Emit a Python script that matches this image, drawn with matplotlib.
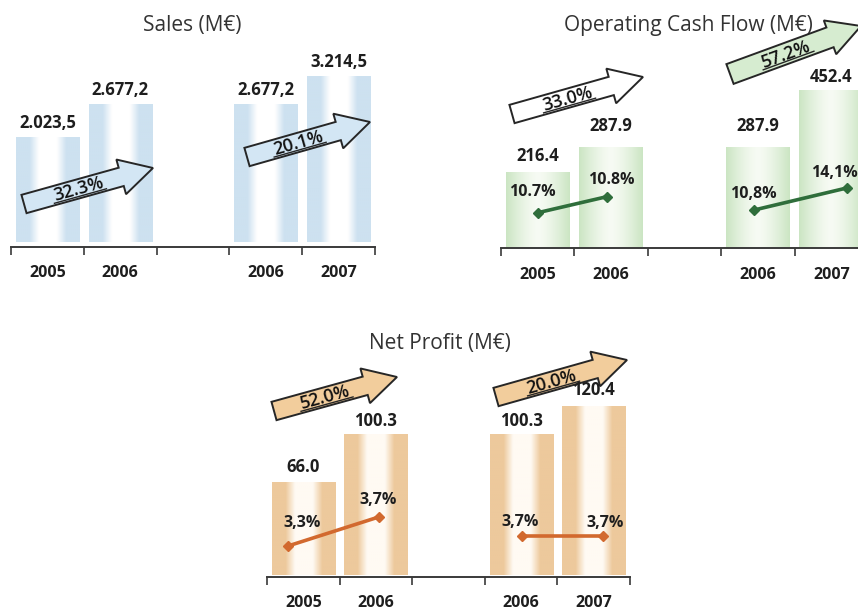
import matplotlib
matplotlib.use('Agg')
import matplotlib.pyplot as plt
import numpy as np
from matplotlib.patches import FancyArrow
from matplotlib.transforms import Affine2D
from matplotlib.colors import to_rgb

plt.rcParams['font.family'] = ['Open Sans', 'DejaVu Sans']

# ---------------- data ----------------
year_labels = ['2005', '2006', '', '2006', '2007']
bar_slots = [0, 1, 3, 4]

sales_values = [2023.5, 2677.2, 2677.2, 3214.5]
sales_labels = ['2.023,5', '2.677,2', '2.677,2', '3.214,5']
sales_growth = ['32.3%', '20.1%']

ocf_values = [216.4, 287.9, 287.9, 452.4]
ocf_labels = ['216.4', '287.9', '287.9', '452.4']
ocf_margin_left = [10.7, 10.8]
ocf_margin_right = [10.8, 14.1]
ocf_margin_labels_left = ['10.7%', '10.8%']
ocf_margin_labels_right = ['10,8%', '14,1%']
ocf_growth = ['33.0%', '57.2%']

np_values = [66.0, 100.3, 100.3, 120.4]
np_labels = ['66.0', '100.3', '100.3', '120.4']
np_margin_left = [3.3, 3.7]
np_margin_right = [3.7, 3.7]
np_margin_labels_left = ['3,3%', '3,7%']
np_margin_labels_right = ['3,7%', '3,7%']
np_growth = ['52.0%', '20.0%']

# ---------------- figure ----------------
W, H = 858, 610
fig = plt.figure(figsize=(W / 100, H / 100), dpi=100)
pix = Affine2D().scale(1 / W, -1 / H).translate(0, 1) + fig.transFigure
PT = 0.72  # points per pixel
TXT = '#1e1e1e'


def px_axes(left, right, bottom, top):
    ax = fig.add_axes([left / W, 1 - bottom / H, (right - left) / W, (bottom - top) / H])
    ax.patch.set_visible(False)
    return ax


def grad_bar(ax, xc, h, width, edge, center, sharp):
    t = np.linspace(0, 1, 96)
    d = np.abs(2 * t - 1)
    if sharp:
        w = np.clip((d - 0.28) / 0.3, 0, 1)
    else:
        w = d ** 1.4
    e = np.array(to_rgb(edge)); c = np.array(to_rgb(center))
    cols = c[None, :] * (1 - w[:, None]) + e[None, :] * w[:, None]
    ax.imshow(cols[None, :, :], extent=(xc - width / 2, xc + width / 2, 0, h),
              aspect='auto', origin='lower', interpolation='bilinear', zorder=1)


def style_axis(ax, ylim, label_off_px):
    ax.set_xlim(0, 5)
    ax.set_ylim(*ylim)
    for s in ['left', 'right', 'top']:
        ax.spines[s].set_visible(False)
    ax.spines['bottom'].set_color('#3a3a3a')
    ax.spines['bottom'].set_linewidth(1.4)
    ax.set_xticks(range(6))
    ax.set_xticklabels([])
    ax.tick_params(axis='x', length=6, width=1.2, color='#3a3a3a', direction='out')
    ax.set_yticks([])
    for i, lab in enumerate(year_labels):
        if lab:
            ax.annotate(lab, (i + 0.5, 0), xycoords=('data', 'axes fraction'),
                        xytext=(0, -label_off_px * PT), textcoords='offset points',
                        ha='center', va='center', fontsize=11.5, fontweight='bold',
                        color=TXT, annotation_clip=False)


def growth_arrow(ax, tail, tip, label, fill, body_w=19, head_w=36, head_l=33):
    dx, dy = tip[0] - tail[0], tip[1] - tail[1]
    L = np.hypot(dx, dy)
    ux, uy = dx / L, dy / L
    arr = FancyArrow(tail[0], tail[1], dx, dy, width=body_w, head_width=head_w,
                     head_length=head_l, length_includes_head=True,
                     facecolor=fill, edgecolor='#262626', lw=1.4,
                     transform=pix, clip_on=False, zorder=4)
    ax.add_patch(arr)
    ang = np.degrees(np.arctan2(-dy, dx))
    d = (L - head_l) * 0.56
    px_, py_ = -uy, ux
    cx, cy = tail[0] + ux * d + px_ * 1.0, tail[1] + uy * d + py_ * 1.0
    ax.text(cx, cy, label, rotation=ang, rotation_mode='anchor', ha='center',
            va='center', fontsize=13, fontweight='semibold', color='#111111',
            transform=pix, clip_on=False, zorder=5)
    ux0, uy0 = cx + px_ * 6.5 - ux * 27, cy + py_ * 6.5 - uy * 27
    ux1, uy1 = cx + px_ * 6.5 + ux * 27, cy + py_ * 6.5 + uy * 27
    ax.plot([ux0, ux1], [uy0, uy1], color='#262626', lw=1.0, transform=pix,
            clip_on=False, zorder=5)


def panel(rect, ylim, values, labels, edge, center, sharp, val_offs, title, title_xy, yl_off):
    ax = px_axes(*rect)
    for s, v in zip(bar_slots, values):
        grad_bar(ax, s + 0.5, v, 0.87, edge, center, sharp)
    style_axis(ax, ylim, yl_off)
    for s, v, lab, off in zip(bar_slots, values, labels, val_offs):
        ax.annotate(lab, (s + 0.5, v), xytext=(0, off * PT), textcoords='offset points',
                    ha='center', va='center', fontsize=12, fontweight='bold',
                    color=TXT, zorder=6, annotation_clip=False)
    ax.text(title_xy[0], title_xy[1], title, transform=pix, ha='center', va='center',
            fontsize=15, color='#333333', zorder=3, clip_on=False)
    return ax


def margin_line(ax, xs, vals, labels, ylim, color, offs):
    tw = ax.twinx()
    tw.set_ylim(*ylim)
    tw.axis('off')
    tw.plot(xs, vals, color=color, lw=2.6, marker='D', markersize=5.5, zorder=5)
    for x, v, lab, (ox, oy) in zip(xs, vals, labels, offs):
        tw.annotate(lab, (x, v), xytext=(ox * PT, oy * PT), textcoords='offset points',
                    ha='center', va='center', fontsize=11.5, fontweight='bold',
                    color=TXT, zorder=6, annotation_clip=False)
    tw.set_xlim(0, 5)
    return tw


# ---- Sales ----
ax_s = panel((11, 375, 247, 30), (-97, 4117), sales_values, sales_labels,
             '#cde1f0', '#ffffff', True, [15, 14, 14, 14], 'Sales (M€)', (192, 25), 26)
growth_arrow(ax_s, (24, 204), (153, 168), sales_growth[0], '#d3e6f4')
growth_arrow(ax_s, (247, 157), (370, 122), sales_growth[1], '#d3e6f4')

# ---- Operating Cash Flow ----
ax_o = panel((501, 868, 248, 30), (-3, 629), ocf_values, ocf_labels,
             '#cbe5c3', '#f7fbf4', False, [16, 22, 22, 14],
             'Operating Cash Flow (M€)', (688, 25), 27)
margin_line(ax_o, [0.50, 1.44], ocf_margin_left, ocf_margin_labels_left,
            (10.48, 11.84), '#2f6e3b', [(-5, 21), (5, 17)])
margin_line(ax_o, [3.45, 4.71], ocf_margin_right, ocf_margin_labels_right,
            (5.1, 37.8), '#2f6e3b', [(-1, 16), (-12, 15)])
growth_arrow(ax_o, (512, 114), (643, 77), ocf_growth[0], '#ffffff')
growth_arrow(ax_o, (730, 74), (861, 26), ocf_growth[1], '#d6ecd0', body_w=21)

# ---- Net Profit ----
ax_n = panel((267, 630, 577, 350), (-1.4, 160.7), np_values, np_labels,
             '#edc99c', '#fffaf3', True, [16, 14, 14, 16],
             'Net Profit (M€)', (440, 343), 26)
margin_line(ax_n, [0.29, 1.54], np_margin_left, np_margin_labels_left,
            (2.872, 6.003), '#d2692e', [(14, 23), (-1, 17)])
margin_line(ax_n, [3.51, 4.63], np_margin_right, np_margin_labels_right,
            (3.128, 6.259), '#d2692e', [(-2, 14), (2, 13)])
growth_arrow(ax_n, (274, 411), (397, 377), np_growth[0], '#f2cd9c')
growth_arrow(ax_n, (496, 397), (627, 360), np_growth[1], '#f2cd9c')

fig.savefig('out.png', dpi=100)
